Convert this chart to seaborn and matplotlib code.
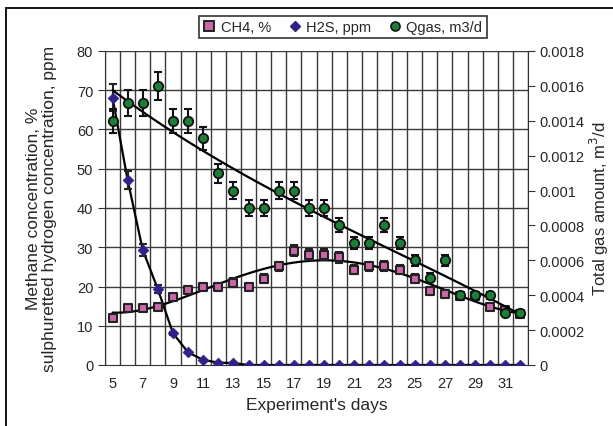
import numpy as np
import pandas as pd
import matplotlib
matplotlib.use("Agg")
import matplotlib.pyplot as plt
import seaborn as sns
from matplotlib.patches import Rectangle
from matplotlib.lines import Line2D

# ---- data ----
days = list(range(5, 33))
ch4 = [12.0, 14.4, 14.4, 14.9, 17.2, 19.1, 20.0, 20.0, 21.0, 20.0, 22.0, 25.1, 29.1, 28.1,
       28.1, 27.4, 24.3, 25.1, 25.3, 24.3, 22.0, 18.9, 18.1, 17.5, 17.5, 14.8, 14.1, 13.0]
h2s = [68.1, 47.1, 29.3, 19.3, 8.1, 3.2, 1.3, 0.6, 0.5, 0, 0, 0, 0, 0,
       0, 0, 0, 0, 0, 0, 0, 0, 0, 0, 0, 0, 0, 0]
qgas = [0.0014, 0.0015, 0.0015, 0.0016, 0.0014, 0.0014, 0.0013, 0.0011, 0.0010, 0.0009,
        0.0009, 0.0010, 0.0010, 0.0009, 0.0009, 0.0008, 0.0007, 0.0007, 0.0008, 0.0007,
        0.0006, 0.0005, 0.0006, 0.0004, 0.0004, 0.0004, 0.0003, 0.0003]
err_frac = 0.05
xtick_labels = [str(d) for d in range(5, 32, 2)]

df = pd.DataFrame({"day": days, "ch4": ch4, "h2s": h2s, "qgas": qgas})

# ---- style ----
sns.set_style("white")
plt.rcParams["font.family"] = ["Liberation Sans", "DejaVu Sans"]

c_ch4 = "#CC66AA"
c_h2s = "#2E2288"
c_q = "#1B7F35"
grid_c = "#3a3a3a"

fig = plt.figure(figsize=(6.13, 4.27), dpi=100)
ax = fig.add_axes([105 / 613, 1 - 366 / 427, (528 - 105) / 613, (366 - 52) / 427])
ax2 = ax.twinx()

# trend lines
sns.regplot(data=df, x="day", y="ch4", order=4, scatter=False, ci=None, ax=ax,
            line_kws=dict(color="black", lw=1.6, zorder=3))
sns.lineplot(data=df, x="day", y="h2s", ax=ax, color="black", lw=1.6, zorder=3)
sns.regplot(data=df, x="day", y="qgas", order=3, scatter=False, ci=None, ax=ax2,
            line_kws=dict(color="black", lw=1.6, zorder=3))

# error bars
ax.errorbar(df["day"], df["ch4"], yerr=df["ch4"] * err_frac, fmt="none", ecolor="#222222",
            elinewidth=1.5, capsize=3.2, capthick=1.5, zorder=4)
ax.errorbar(df["day"], df["h2s"], yerr=df["h2s"] * err_frac, fmt="none", ecolor="#222222",
            elinewidth=1.5, capsize=3.2, capthick=1.5, zorder=4)
ax2.errorbar(df["day"], df["qgas"], yerr=df["qgas"] * err_frac, fmt="none", ecolor="#111111",
             elinewidth=1.5, capsize=3.2, capthick=1.5, zorder=4)

# markers
sns.scatterplot(data=df, x="day", y="ch4", ax=ax, marker="s", s=34, color=c_ch4,
                edgecolor="#222222", linewidth=1.5, zorder=5)
sns.scatterplot(data=df, x="day", y="h2s", ax=ax, marker="D", s=30, color=c_h2s,
                edgecolor=c_h2s, linewidth=0.5, zorder=5)
sns.scatterplot(data=df, x="day", y="qgas", ax=ax2, marker="o", s=46, color=c_q,
                edgecolor="#111111", linewidth=1.3, zorder=5)

# axes limits / ticks
ax.set_xlim(4.5, 32.5)
ax.set_ylim(0, 80)
ax2.set_ylim(0, 0.0018)
ax.set_yticks(np.arange(0, 81, 10))
ax2.set_yticks(np.arange(0, 0.00181, 0.0002))
ax2.set_yticklabels(["0"] + [f"{v:.4f}".rstrip("0") for v in np.arange(0.0002, 0.00181, 0.0002)])
ax.set_xticks(range(5, 32, 2))
ax.set_xticklabels(xtick_labels)
ax.set_xticks(np.arange(4.5, 32.6, 1), minor=True)

ax.tick_params(axis="x", which="major", length=0, labelsize=10.5, pad=8)
ax.tick_params(axis="x", which="minor", length=4, direction="inout", color="#333333")
ax.tick_params(axis="y", length=5, direction="out", labelsize=10.5, color="#333333", left=True)
ax2.tick_params(axis="y", length=5, direction="out", labelsize=10.5, color="#333333", right=True)

ax.grid(False)
for v in np.arange(4.5, 32.6, 1):
    ax.axvline(v, color=grid_c, lw=1.0, zorder=1)
for v in np.arange(10, 81, 10):
    ax.axhline(v, color=grid_c, lw=1.0, zorder=1)
ax2.grid(False)

for a in (ax, ax2):
    for s in a.spines.values():
        s.set_visible(False)
ax.spines["left"].set_visible(True)
ax.spines["left"].set_color("#333333")
ax.spines["bottom"].set_visible(True)
ax.spines["bottom"].set_color("#333333")
ax2.spines["right"].set_visible(True)
ax2.spines["right"].set_color("#333333")

ax.set_xlabel("Experiment's days", fontsize=12.5, labelpad=5)
ax.set_ylabel("Methane concentration, %\nsulphuretted hydrogen concentration, ppm",
              fontsize=12.5, labelpad=14, linespacing=1.15)
ax2.set_ylabel("Total gas amount, m$^3$/d", fontsize=12, labelpad=2)

# legend
handles = [
    Line2D([], [], ls="none", marker="s", ms=6.5, mfc=c_ch4, mec="#222222", mew=1.4),
    Line2D([], [], ls="none", marker="D", ms=5.5, mfc=c_h2s, mec=c_h2s),
    Line2D([], [], ls="none", marker="o", ms=6.5, mfc=c_q, mec="#111111", mew=1.2),
]
leg = fig.legend(handles, ["CH4, %", "H2S, ppm", "Qgas, m3/d"], ncol=3,
                 loc="center", bbox_to_anchor=(343 / 613, 1 - 28 / 427),
                 frameon=True, fancybox=False, edgecolor="black", fontsize=10.5,
                 handlelength=0.8, handletextpad=0.4, columnspacing=1.2,
                 borderpad=0.3)
leg.get_frame().set_linewidth(1.2)

# chart border
fig.add_artist(Rectangle((6 / 613, -0.2), 1.2, 1 - 9 / 427 + 0.2, transform=fig.transFigure,
                         fill=False, lw=1.3, ec="black", clip_on=False))

fig.savefig("out.png", dpi=100)
